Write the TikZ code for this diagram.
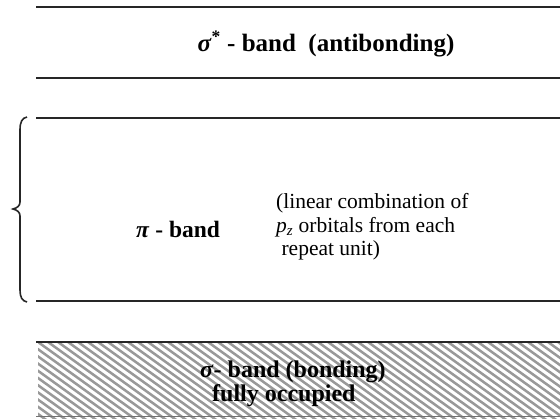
\documentclass[tikz,border=0pt]{standalone}
\usepackage{fontspec}
\setmainfont{Liberation Serif}
\begin{document}
\begin{tikzpicture}[x=1pt,y=-1pt,
  bandline/.style={line width=1.6pt,black!85},
  hatchline/.style={line width=2.5pt,black!40},
  bracestyle/.style={line width=1.6pt,black!85},
  boldlabel/.style={font=\fontsize{25}{24}\selectfont\bfseries,inner sep=0pt},
  notelabel/.style={font=\fontsize{21.5}{23.5}\selectfont,align=left,inner sep=0pt}]
\useasboundingbox (0,0) rectangle (560,418);
% sigma band hatching
\begin{scope}
  \clip (38,342) rectangle (560,418);
  \foreach \i in {-14,...,56} {
    \draw[hatchline] (38+\i*10,342) -- ++(120,86.4);
  }
\end{scope}
% band lines
\coordinate (l1a) at (36,7);   \coordinate (l1b) at (560,7);
\coordinate (l2a) at (36,78);  \coordinate (l2b) at (560,78);
\coordinate (l3a) at (36,118); \coordinate (l3b) at (560,118);
\coordinate (l4a) at (36,301); \coordinate (l4b) at (560,301);
\coordinate (l5a) at (36,342); \coordinate (l5b) at (560,342);
\coordinate (l6a) at (36,416.5); \coordinate (l6b) at (560,416.5);
\draw[bandline] (l1a) -- (l1b);
\draw[bandline] (l2a) -- (l2b);
\draw[bandline] (l3a) -- (l3b);
\draw[bandline] (l4a) -- (l4b);
\draw[bandline] (l5a) -- (l5b);
\draw[line width=1.6pt,black!55] (l6a) -- (l6b);
% brace
\draw[bracestyle] (27,117) .. controls (22,118) and (20,122) .. (20,130)
  -- (20,202) .. controls (20,206) and (17,208) .. (13,209)
  .. controls (17,210) and (20,212) .. (20,216)
  -- (20,290) .. controls (20,297) and (22,301) .. (27,302);
% labels
\node[boldlabel] (sstar) at (326,44) {\textit{σ}\textsuperscript{*} - band\ \ (antibonding)};
\node[boldlabel,anchor=west,font=\fontsize{23.5}{24}\selectfont\bfseries] (pi) at (136,229) {\textit{π} - band};
\node[notelabel,anchor=west] (note) at (276,227) {(linear combination of\\\textit{p\textsubscript{z}} orbitals from each\\\ repeat unit)};
\node[boldlabel,align=left,anchor=west,font=\fontsize{24}{24}\selectfont\bfseries] (sigma) at (200,384) {\textit{σ}- band (bonding)\\\hspace*{12pt}fully occupied};
\end{tikzpicture}
\end{document}
